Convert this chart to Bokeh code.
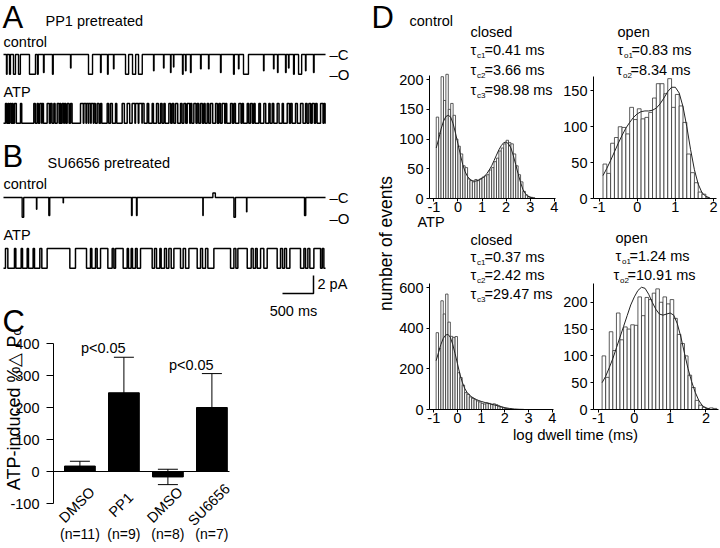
import math
from bokeh.plotting import figure
from bokeh.core.properties import value
from bokeh.models import (Range1d, Label, LabelSet, ColumnDataSource, FixedTicker,
                          LinearAxis, Whisker, TeeHead)
from bokeh.embed import file_html
from bokeh.resources import INLINE

FONT = "Liberation Sans"
FS = "14.5px"
BIG = "31px"

# ======================= DATA =======================
# Panels A/B: single-channel recordings (time in ms, current in pA)
UNITARY_PA = 2.2
TRACE_END_MS = 5194
SCALEBAR_MS = 500
SCALEBAR_PA = 2

# A, control: openings
a_ctrl_start = [48, 97, 161, 242, 419, 548, 645, 790, 1081, 1371, 1565, 1678, 1774, 1968, 2081,
                2178, 2420, 2581, 2694, 2742, 2887, 2936, 3016, 3178, 3307, 3500, 3710, 3790,
                3871, 4194, 4355, 4420, 4549, 4597, 4678, 4759, 4871, 5000]
a_ctrl_dur = [10, 15, 32, 30, 97, 12, 10, 12, 8, 65, 10, 10, 8, 50, 50, 60, 8, 8, 8, 6, 10, 8,
              10, 10, 8, 10, 12, 8, 80, 8, 8, 8, 10, 8, 12, 50, 8, 10]
a_ctrl_amp = [2.2, 2.2, 2.2, 2.2, 2.2, 2.2, 2.0, 2.2, 1.5, 2.2, 2.0, 2.2, 1.6, 2.2, 2.2, 2.2,
              1.8, 1.5, 2.0, 1.4, 2.2, 1.8, 2.0, 1.6, 1.6, 2.0, 2.2, 1.6, 2.2, 1.8, 1.6, 2.0,
              2.0, 1.5, 2.2, 2.2, 1.8, 2.0]

# A, ATP: closures (channel mostly open)
a_atp_close_start = [32, 70, 102, 140, 177, 274, 489, 543, 586, 624, 704, 758, 812, 866, 909,
                     946, 984, 1027, 1081, 1242, 1296, 1339, 1376, 1414, 1457, 1511, 1565, 1672,
                     1726, 1807, 1914, 1995, 2075, 2129, 2183, 2237, 2317, 2398, 2468, 2533,
                     2587, 2667, 2721, 2775, 2855, 2909, 2963, 3017, 3070, 3124, 3178, 3232,
                     3285, 3339, 3420, 3474, 3527, 3581, 3662, 3716, 3796, 3850, 3931, 3984,
                     4038, 4119, 4199, 4280, 4334, 4414, 4495, 4576, 4630, 4710, 4791, 4872,
                     4925, 4979, 5033, 5114, 5167]
a_atp_close_dur = [20, 15, 25, 15, 30, 20, 25, 20, 30, 20, 35, 25, 20, 30, 15, 25, 20, 30, 25, 45,
                   35, 30, 30, 35, 25, 30, 20, 25, 30, 20, 35, 40, 45, 45, 50, 30, 25, 20, 30, 25,
                   20, 30, 25, 35, 25, 30, 40, 20, 35, 25, 30, 20, 25, 35, 30, 25, 40, 20, 30, 25,
                   35, 20, 25, 30, 20, 25, 30, 20, 25, 30, 20, 35, 25, 30, 40, 25, 30, 35, 25, 40,
                   20]

# B, control: openings (negative amplitude = small upward deflection)
b_ctrl_start = [301, 532, 731, 962, 2065, 2145, 3215, 3377, 3716, 3920, 4855]
b_ctrl_dur = [25, 6, 15, 5, 10, 10, 6, 40, 25, 6, 20]
b_ctrl_amp = [2.2, 1.3, 2.0, 0.6, 2.0, 2.0, 2.0, -0.5, 2.2, 1.6, 2.0]

# B, ATP: closures
b_atp_close_start = [32, 177, 285, 382, 478, 586, 704, 1161, 1403, 1484, 1565, 1753, 1807, 1995,
                     2059, 2129, 2210, 2436, 2522, 2597, 2667, 2748, 2898, 2990, 3178, 3259,
                     3393, 3716, 3780, 3995, 4065, 4146, 4253, 4468, 4533, 4619, 4845, 4909,
                     5006, 5141]
b_atp_close_dur = [38, 22, 22, 21, 22, 32, 366, 178, 22, 27, 118, 27, 123, 21, 22, 27, 188, 32,
                   21, 32, 38, 107, 38, 134, 32, 37, 269, 32, 151, 32, 27, 53, 161, 32, 32, 172,
                   27, 32, 108, 26]

# Panel C: ATP-induced % change in Po
bar_categories = ["DMSO", "PP1", "DMSO", "SU6656"]
bar_n = ["(n=11)", "(n=9)", "(n=8)", "(n=7)"]
bar_mean = [17, 246, -17, 200]
bar_sem = [15, 111, 24, 106]
bar_sig = ["", "p<0.05", "", "p<0.05"]
c_yticks = [-100, 0, 100, 200, 300, 400]

# Panel D: log dwell-time histograms (bins 0.1 log units, first bin centred at -0.85)
BIN_W = 0.1
BIN_FIRST = -0.85
ctrl_closed_counts = [137, 110, 205, 165, 209, 150, 160, 140, 100, 88, 75, 55, 52, 33, 30, 28,
                      32, 30, 33, 36, 38, 40, 48, 52, 62, 68, 80, 85, 92, 98, 94, 92, 75, 55, 40,
                      28, 12, 6, 3, 2, 1]
ctrl_closed_fit_x = [-0.9, -0.8, -0.7, -0.6, -0.5, -0.4, -0.3, -0.2, -0.1, 0.0, 0.1, 0.2, 0.3,
                     0.4, 0.5, 0.6, 0.7, 0.8, 0.9, 1.0, 1.1, 1.2, 1.3, 1.4, 1.5, 1.6, 1.7, 1.8,
                     1.9, 2.0, 2.1, 2.2, 2.3, 2.4, 2.5, 2.6, 2.7, 2.8, 2.9, 3.0, 3.1, 3.2]
ctrl_closed_fit_y = [85, 100, 117, 130, 138, 140, 137, 126, 110, 92, 74, 57, 45, 37, 32, 30, 29,
                     30, 32, 34, 37, 42, 48, 55, 64, 73, 82, 89, 94, 95, 92, 85, 72, 57, 41, 27,
                     15, 8, 4, 2, 1, 0.4]
ctrl_open_counts = [48, 35, 77, 85, 100, 99, 90, 127, 110, 125, 111, 113, 120, 140, 160, 160,
                    146, 167, 127, 145, 129, 106, 62, 36, 22, 9, 6, 1]
ctrl_open_fit_x = [-0.9, -0.8, -0.7, -0.6, -0.5, -0.4, -0.3, -0.2, -0.1, 0.0, 0.1, 0.2, 0.3,
                   0.4, 0.5, 0.6, 0.7, 0.8, 0.9, 1.0, 1.1, 1.2, 1.3, 1.4, 1.5, 1.6, 1.7, 1.8, 1.9]
ctrl_open_fit_y = [32, 42, 53, 65, 77, 88, 98, 106, 113, 118, 121, 122, 122, 123, 126, 132, 140,
                   149, 155, 155, 147, 128, 100, 68, 40, 20, 8, 3, 1]
atp_closed_counts = [378, 300, 535, 470, 568, 430, 360, 355, 359, 181, 157, 120, 83, 75, 62, 55,
                     48, 42, 37, 30, 27, 33, 30, 26, 28, 24, 18, 12, 8, 5, 3, 2]
atp_closed_fit_x = [-0.9, -0.8, -0.7, -0.6, -0.5, -0.4, -0.3, -0.2, -0.1, 0.0, 0.1, 0.2, 0.3,
                    0.4, 0.5, 0.6, 0.7, 0.8, 0.9, 1.0, 1.2, 1.4, 1.6, 1.8, 2.0, 2.2, 2.4, 2.6,
                    2.8]
atp_closed_fit_y = [240, 280, 320, 350, 366, 370, 355, 320, 275, 225, 175, 135, 105, 85, 72, 62,
                    55, 49, 44, 40, 33, 27, 21, 15, 9, 5, 2.5, 1, 0.5]
atp_open_counts = [100, 60, 145, 110, 180, 130, 154, 150, 158, 157, 210, 175, 209, 205, 217,
                   225, 200, 210, 197, 205, 170, 140, 123, 100, 64, 41, 17, 8, 4, 2, 3, 2]
atp_open_fit_x = [-0.9, -0.8, -0.7, -0.6, -0.5, -0.4, -0.3, -0.2, -0.1, 0.0, 0.1, 0.2, 0.3,
                  0.4, 0.5, 0.6, 0.7, 0.8, 0.9, 1.0, 1.1, 1.2, 1.3, 1.4, 1.5, 1.6, 1.7, 1.8,
                  1.9, 2.0, 2.1]
atp_open_fit_y = [50, 62, 78, 95, 115, 135, 155, 175, 195, 210, 222, 228, 226, 215, 200, 187,
                  178, 176, 178, 180, 176, 160, 135, 105, 76, 52, 32, 17, 7, 3, 1]

# ======================= CANVAS =======================
# One figure; its default ranges are page pixels (used for placing texts),
# each panel gets its own named data ranges.
PL, PR, PT, PB = 0, 720, 0, 548
p = figure(width=PR - PL, height=PB - PT, x_range=Range1d(PL, PR), y_range=Range1d(PB, PT),
           output_backend="svg", toolbar_location=None,
           x_axis_location=None, y_axis_location=None, min_border=0)
p.outline_line_color = None
p.grid.visible = False
p.background_fill_color = "white"
p.border_fill_color = "white"

xr_extra, yr_extra = {}, {}


def panel(name, fl, fr, ft, fb, xr, yr):
    """data range xr/yr drawn in the page-pixel box [fl, fr] x [ft, fb]"""
    (x0, x1), (y0, y1) = xr, yr
    kx = (x1 - x0) / (fr - fl)
    ky = (y1 - y0) / (fb - ft)
    xr_extra[name] = Range1d(x0 - (fl - PL) * kx, x1 + (PR - fr) * kx)
    yr_extra[name] = Range1d(y0 - (PB - fb) * ky, y1 + (ft - PT) * ky)
    p.extra_x_ranges = dict(xr_extra)
    p.extra_y_ranges = dict(yr_extra)


MID = 0.35  # distance (in em) from the alphabetic baseline up to the "middle" anchor


def lab(px, py, text, size=FS, align="left", baseline="alphabetic", angle=0.0):
    """py is the alphabetic baseline (page px) unless baseline='middle'"""
    if baseline == "alphabetic":
        py = py - MID * float(size.replace("px", ""))
    p.add_layout(Label(x=px, y=py, text=text, text_font=FONT, text_font_size=size,
                       text_color="black", text_align=align, text_baseline="middle",
                       angle=angle))


def tau(px, py, sub, rest):
    lab(px, py, "τ")
    lab(px + 6.5, py + 2.5, sub, size="8px")
    lab(px + 14, py, rest)


def style_axis(ax, ticks, size=FS, tick_out=3, standoff=2):
    ax.ticker = FixedTicker(ticks=ticks)
    ax.major_label_overrides = {t: str(t) for t in ticks}
    ax.major_label_text_font = FONT
    ax.major_label_text_font_size = size
    ax.major_label_text_color = "black"
    ax.axis_line_color = "black"
    ax.axis_line_width = 1
    ax.major_tick_line_color = "black"
    ax.major_tick_out = tick_out
    ax.major_tick_in = 0
    ax.minor_tick_line_color = None
    ax.major_label_standoff = standoff


def axes(name, xr, yr, xticks, yticks):
    xa = LinearAxis(x_range_name=name, y_range_name=name, fixed_location=yr[0], bounds=xr)
    style_axis(xa, xticks, tick_out=3, standoff=0)
    p.add_layout(xa, "below")
    ya = LinearAxis(x_range_name=name, y_range_name=name, fixed_location=xr[0], bounds=yr)
    style_axis(ya, yticks, tick_out=3, standoff=3)
    p.add_layout(ya, "left")


def step_trace(base, starts, durs, levels, t_end):
    xs, ys = [0.0], [base]
    for s, d, l in sorted(zip(starts, durs, levels)):
        xs += [s, s, s + d, s + d]
        ys += [base, l, l, base]
    xs.append(t_end)
    ys.append(base)
    return xs, ys


# ======================= PANELS A / B =======================
MS_PER_PX = SCALEBAR_MS / 31.0
PX_PER_PA = 18.0 / SCALEBAR_PA
AB_L, AB_R, AB_T, AB_B = 3, 361, 8, 303
ab_xr = (0, (AB_R - AB_L) * MS_PER_PX)
ab_yr = (-(AB_B - AB_T) / PX_PER_PA, 0)
panel("ab", AB_L, AB_R, AB_T, AB_B, ab_xr, ab_yr)


def ab_y(py):
    return -(py - AB_T) / PX_PER_PA


traces = [
    (54, 0.0, a_ctrl_start, a_ctrl_dur, [-a for a in a_ctrl_amp], 1.4),
    (103, -UNITARY_PA, a_atp_close_start, a_atp_close_dur, [0.0] * len(a_atp_close_start), 1.5),
    (197, 0.0, b_ctrl_start, b_ctrl_dur, [-a for a in b_ctrl_amp], 1.4),
    (248, -UNITARY_PA, b_atp_close_start, b_atp_close_dur, [0.0] * len(b_atp_close_start), 1.5),
]
for closed_py, base, st, du, lv, lw in traces:
    off = ab_y(closed_py)
    xs, ys = step_trace(base, st, du, lv, TRACE_END_MS)
    p.line(xs, [off + y for y in ys], line_color="black", line_width=lw,
           x_range_name="ab", y_range_name="ab")

# scale bar (corner at page 313, 293)
tc, ic = (313 - AB_L) * MS_PER_PX, ab_y(293)
p.line([tc - SCALEBAR_MS, tc, tc], [ic, ic, ic + SCALEBAR_PA], line_color="black",
       line_width=1.5, x_range_name="ab", y_range_name="ab")
lab(317, 289, f"{SCALEBAR_PA} pA")
lab(293, 316, f"{SCALEBAR_MS} ms", align="center")

lab(2, 28, "A", size=BIG)
lab(45, 26, "PP1 pretreated")
lab(3, 47, "control")
lab(329, 59, "–C", size="15px")
lab(329, 79, "–O", size="15px")
lab(3, 97, "ATP")
lab(2, 167, "B", size=BIG)
lab(47, 168, "SU6656 pretreated")
lab(3, 189, "control")
lab(329, 202, "–C", size="15px")
lab(329, 223, "–O", size="15px")
lab(3, 240, "ATP")

# ======================= PANEL C =======================
c_xr = (0.4, 4.4)
c_yr = (-100, 400)
C_BOX = (53, 229, 343, 503)
panel("c", *C_BOX, c_xr, c_yr)
c_px_per_unit = (C_BOX[3] - C_BOX[2]) / (c_yr[1] - c_yr[0])
positions = list(range(1, len(bar_categories) + 1))
csrc = ColumnDataSource(dict(
    x=positions, mean=bar_mean,
    upper=[m + s for m, s in zip(bar_mean, bar_sem)],
    lower=[m - s for m, s in zip(bar_mean, bar_sem)],
    cat=bar_categories,
    cat_y=[-104] * len(bar_categories),
))
p.vbar(x="x", top="mean", bottom=0, width=0.7, source=csrc, fill_color="black",
       line_color="black", x_range_name="c", y_range_name="c")
p.add_layout(Whisker(source=csrc, base="x", upper="upper", lower="lower",
                     x_range_name="c", y_range_name="c",
                     line_color="black", line_width=1,
                     upper_head=TeeHead(size=20, line_color="black", line_width=1),
                     lower_head=TeeHead(size=20, line_color="black", line_width=1)))
ya = LinearAxis(x_range_name="c", y_range_name="c", fixed_location=c_xr[0], bounds=c_yr)
style_axis(ya, c_yticks, size="14.5px", tick_out=7, standoff=7)
p.add_layout(ya, "left")
zero_axis = LinearAxis(x_range_name="c", y_range_name="c", fixed_location=0, bounds=c_xr,
                       ticker=FixedTicker(ticks=[]), axis_line_color="black",
                       major_tick_line_color=None, minor_tick_line_color=None)
p.add_layout(zero_axis, "below")
n_axis = LinearAxis(x_range_name="c", y_range_name="c", fixed_location=c_yr[0],
                    ticker=FixedTicker(ticks=positions),
                    major_label_overrides={pos: n for pos, n in zip(positions, bar_n)},
                    axis_line_color=None, major_tick_line_color=None, major_tick_out=0,
                    minor_tick_line_color=None, major_label_standoff=22,
                    major_label_text_font=FONT, major_label_text_font_size="14px",
                    major_label_text_color="black")
p.add_layout(n_axis, "below")
p.add_layout(LabelSet(x="x", y="cat_y", text="cat", source=csrc, angle=math.pi / 4,
                      x_range_name="c", y_range_name="c",
                      x_offset=-3, text_align="center", text_baseline="middle",
                      text_font=value(FONT), text_font_size=value("14.5px"),
                      text_color="black"))
for pos, up, sig in zip(positions, csrc.data["upper"], bar_sig):
    if sig:
        # baseline ~4px above the cap, anchored at the text middle
        y_mid = up + (4 + MID * 14.5) / c_px_per_unit
        p.add_layout(Label(x=pos + 0.04, y=y_mid, text=sig, text_align="right",
                           x_range_name="c", y_range_name="c",
                           text_baseline="middle", text_font=FONT,
                           text_font_size="14.5px", text_color="black"))
lab(2, 332, "C", size=BIG)
lab(13, 409, "ATP-induced %△ Pₒ", size="18px", align="center", baseline="middle",
    angle=math.pi / 2)


# ======================= PANEL D =======================
def hist(name, box, xr, yr, xticks, yticks, counts, fx, fy):
    panel(name, *box, xr, yr)
    axes(name, xr, yr, xticks, yticks)
    centers = [round(BIN_FIRST + BIN_W * i, 3) for i in range(len(counts))]
    p.vbar(x=centers, top=counts, bottom=0, width=BIN_W, fill_color="white",
           line_color="#333333", line_width=0.8, x_range_name=name, y_range_name=name)
    p.line(fx, fy, line_color="#222222", line_width=1, x_range_name=name, y_range_name=name)


hist("tl", (429, 555, 75, 198), (-1.18, 4.05), (0, 207), [-1, 0, 1, 2, 3, 4],
     [0, 50, 100, 150, 200], ctrl_closed_counts, ctrl_closed_fit_x, ctrl_closed_fit_y)
hist("tr", (593, 716, 76, 198), (-1.15, 2.08), (0, 170), [-1, 0, 1, 2],
     [0, 50, 100, 150], ctrl_open_counts, ctrl_open_fit_x, ctrl_open_fit_y)
hist("bl", (429, 553, 283, 409), (-1.18, 4.05), (0, 620), [-1, 0, 1, 2, 3, 4],
     [0, 200, 400, 600], atp_closed_counts, atp_closed_fit_x, atp_closed_fit_y)
hist("br", (593, 718, 283, 409), (-1.14, 2.35), (0, 235), [-1, 0, 1, 2],
     [0, 50, 100, 150, 200], atp_open_counts, atp_open_fit_x, atp_open_fit_y)

lab(371, 28, "D", size=BIG)
lab(409, 26, "control")
lab(470, 37, "closed")
tau(470, 55, "c1", "=0.41 ms")
tau(470, 75, "c2", "=3.66 ms")
tau(470, 95, "c3", "=98.98 ms")
lab(617, 37, "open")
tau(617, 55, "o1", "=0.83 ms")
tau(616, 75, "o2", "=8.34 ms")
lab(417, 227, "ATP")
lab(470, 245, "closed")
tau(470, 262, "c1", "=0.37 ms")
tau(470, 280, "c2", "=2.42 ms")
tau(470, 299, "c3", "=29.47 ms")
lab(615, 243, "open")
tau(615, 261, "o1", "=1.24 ms")
tau(613, 280, "o2", "=10.91 ms")
lab(385, 243, "number of events", size="17.5px", align="center", baseline="middle",
    angle=math.pi / 2)
lab(575, 439, "log dwell time (ms)", size="15px", align="center")

open("out.html", "w").write(file_html(p, INLINE))
